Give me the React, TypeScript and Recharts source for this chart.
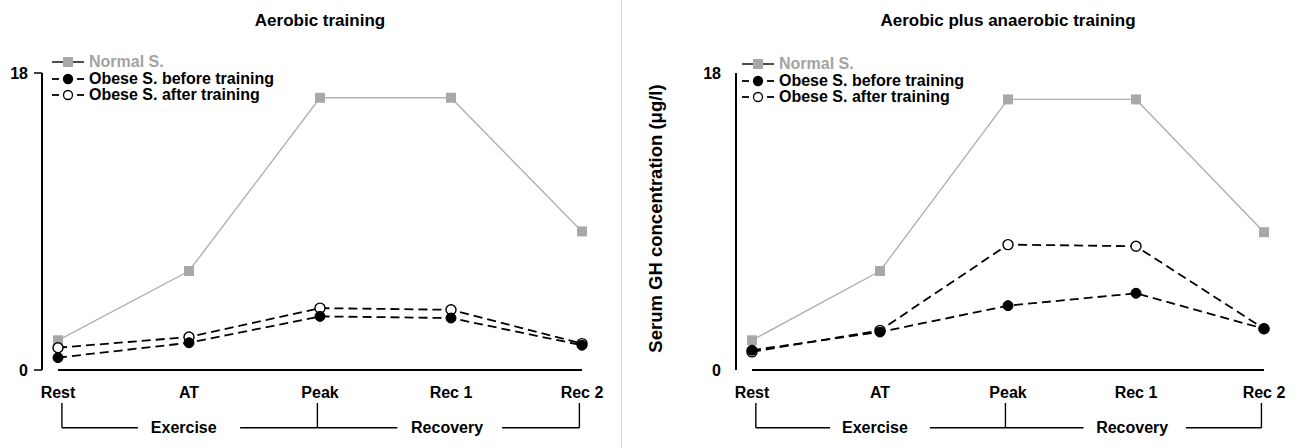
import React from "react";
import { LineChart, Line, XAxis, YAxis, ReferenceLine, ReferenceDot, Legend } from "recharts";

const categories = ["Rest", "AT", "Peak", "Rec 1", "Rec 2"];
const yTicks = [0, 18];
const seriesNames = ["Normal S.", "Obese S. before training", "Obese S. after training"];
const legendOrder = ["normal", "before", "after"];

// Aerobic training panel
const aerobicNormal = [1.8, 6.0, 16.5, 16.5, 8.4];
const aerobicBefore = [0.75, 1.65, 3.25, 3.15, 1.5];
const aerobicAfter = [1.35, 2.0, 3.75, 3.65, 1.6];

// Aerobic plus anaerobic panel
const mixedNormal = [1.8, 6.0, 16.4, 16.4, 8.35];
const mixedBefore = [1.2, 2.3, 3.9, 4.65, 2.5];
const mixedAfter = [1.1, 2.4, 7.6, 7.5, 2.5];

// phase bracket under the x axis
const phaseStems = [0.03, 1.98, 3.98];
const phaseRuns = [[0.03, 0.61], [1.39, 1.98], [1.98, 2.59], [3.39, 3.98]];
const phaseLabels = [{ x: 0.96, text: "Exercise" }, { x: 2.97, text: "Recovery" }];
const stemTop = -2;
const stemBottom = -3.5;

const FONT = "'Liberation Sans', Arial, Helvetica, sans-serif";
const BOLD = { fontSize: 16, fontWeight: 700, fill: "#000", fontFamily: FONT };

const squareDot = (p: any) => (
  <rect key={`sq-${p.index}`} x={p.cx - 5} y={p.cy - 5} width={10} height={10} fill="#a8a8a8" />
);

function Symbol({ kind }: { kind: string }) {
  return (
    <svg width={32} height={12} style={{ marginRight: 5, flex: "none" }}>
      {kind === "normal" ? (
        <>
          <line x1={0} y1={6} x2={32} y2={6} stroke="#111" strokeWidth={1.5} />
          <rect x={11} y={1} width={10} height={10} fill="#a8a8a8" />
        </>
      ) : (
        <>
          <line x1={0} y1={6} x2={7} y2={6} stroke="#000" strokeWidth={1.8} />
          <line x1={25} y1={6} x2={32} y2={6} stroke="#000" strokeWidth={1.8} />
          <circle cx={16} cy={6} r={4.5} fill={kind === "before" ? "#000" : "#fff"} stroke="#000" strokeWidth={1.3} />
        </>
      )}
    </svg>
  );
}

function LegendBox({ payload }: any) {
  const items = [...(payload || [])].sort(
    (a: any, b: any) => legendOrder.indexOf(a.dataKey) - legendOrder.indexOf(b.dataKey)
  );
  return (
    <div style={{ fontFamily: FONT, fontWeight: 700, fontSize: 16 }}>
      {items.map((item: any) => (
        <div key={item.dataKey} style={{ display: "flex", alignItems: "center", height: 16.5, lineHeight: "16px" }}>
          <Symbol kind={item.dataKey} />
          <span style={{ color: item.dataKey === "normal" ? "#a3a3a3" : "#000", whiteSpace: "nowrap" }}>{item.value}</span>
        </div>
      ))}
    </div>
  );
}

interface PanelProps {
  title: string;
  normal: number[];
  before: number[];
  after: number[];
  left: number;
  width: number;
  yAxisWidth: number;
  tickMarks: boolean;
  yLabel?: string;
  legendLeft: number;
  legendTop: number;
}

function Panel({ title, normal, before, after, left, width, yAxisWidth, tickMarks, yLabel, legendLeft, legendTop }: PanelProps) {
  const data = categories.map((c, i) => ({ x: i, normal: normal[i], before: before[i], after: after[i] }));
  // title sits over the middle of the plotted points
  const titleCenter = yAxisWidth + 16 + (width - 24 - yAxisWidth - 32) / 2;

  return (
    <div style={{ position: "absolute", left, top: 0, width, height: 448 }}>
      <div
        style={{
          position: "absolute",
          left: titleCenter - 200,
          width: 400,
          top: 11,
          textAlign: "center",
          fontFamily: FONT,
          fontWeight: 700,
          fontSize: 17,
        }}
      >
        {title}
      </div>
      <LineChart width={width} height={448} data={data} margin={{ top: 73, right: 24, bottom: 0, left: 0 }}>
        <XAxis
          dataKey="x"
          type="number"
          domain={[0, 4]}
          ticks={[0, 1, 2, 3, 4]}
          tickFormatter={(v: number) => categories[v]}
          padding={{ left: 16, right: 16 }}
          height={78}
          axisLine={false}
          tickLine={false}
          tickSize={0}
          tickMargin={17}
          tick={BOLD}
        />
        <YAxis
          domain={[0, 18]}
          ticks={yTicks}
          width={yAxisWidth}
          axisLine={{ stroke: "#000", strokeWidth: 2 }}
          tickLine={tickMarks ? { stroke: "#000", strokeWidth: 1.5 } : false}
          tickSize={8}
          tickMargin={tickMarks ? 6 : 7}
          tick={BOLD}
          label={
            yLabel
              ? { value: yLabel, angle: -90, position: "center", dx: -24, dy: -3, style: { ...BOLD, fontSize: 18.5 } }
              : undefined
          }
        />
        <ReferenceLine
          segment={[{ x: 0, y: 0 }, { x: 4, y: 0 }]}
          stroke="#000"
          strokeWidth={2}
          ifOverflow="visible"
        />
        {phaseStems.map((s) => (
          <ReferenceLine
            key={`stem-${s}`}
            segment={[{ x: s, y: stemTop }, { x: s, y: stemBottom }]}
            stroke="#000"
            strokeWidth={1.4}
            ifOverflow="visible"
          />
        ))}
        {phaseRuns.map((r) => (
          <ReferenceLine
            key={`run-${r[0]}`}
            segment={[{ x: r[0], y: stemBottom }, { x: r[1], y: stemBottom }]}
            stroke="#000"
            strokeWidth={1.4}
            ifOverflow="visible"
          />
        ))}
        {phaseLabels.map((l) => (
          <ReferenceDot
            key={l.text}
            x={l.x}
            y={stemBottom}
            r={0}
            fill="none"
            stroke="none"
            ifOverflow="visible"
            label={{ value: l.text, position: "center", ...BOLD }}
          />
        ))}
        <Legend
          layout="vertical"
          align="center"
          verticalAlign="middle"
          content={<LegendBox />}
          wrapperStyle={{ left: legendLeft, top: legendTop, right: "auto", bottom: "auto", width: "auto" }}
        />
        <Line
          dataKey="normal"
          name={seriesNames[0]}
          stroke="#b0b0b0"
          strokeWidth={1.4}
          dot={squareDot}
          isAnimationActive={false}
        />
        <Line
          dataKey="after"
          name={seriesNames[2]}
          stroke="#000"
          strokeWidth={1.8}
          strokeDasharray="9 5"
          dot={{ r: 5, fill: "#fff", stroke: "#000", strokeWidth: 1.4, strokeDasharray: "" }}
          isAnimationActive={false}
        />
        <Line
          dataKey="before"
          name={seriesNames[1]}
          stroke="#000"
          strokeWidth={1.8}
          strokeDasharray="9 5"
          dot={{ r: 5, fill: "#000", stroke: "#000", strokeWidth: 1, strokeDasharray: "" }}
          isAnimationActive={false}
        />
      </LineChart>
    </div>
  );
}

export default function App() {
  return (
    <div style={{ position: "absolute", left: 0, top: 0, width: 1304, height: 448, background: "#fff", fontFamily: FONT }}>
      <Panel
        title="Aerobic training"
        normal={aerobicNormal}
        before={aerobicBefore}
        after={aerobicAfter}
        left={0}
        width={622}
        yAxisWidth={42}
        tickMarks={true}
        legendLeft={52}
        legendTop={54}
      />
      <div style={{ position: "absolute", left: 621, top: 0, width: 1, height: 448, background: "#dcdcdc" }} />
      <Panel
        title="Aerobic plus anaerobic training"
        normal={mixedNormal}
        before={mixedBefore}
        after={mixedAfter}
        left={622}
        width={682}
        yAxisWidth={114}
        tickMarks={false}
        yLabel="Serum GH concentration (μg/l)"
        legendLeft={120}
        legendTop={56}
      />
    </div>
  );
}
